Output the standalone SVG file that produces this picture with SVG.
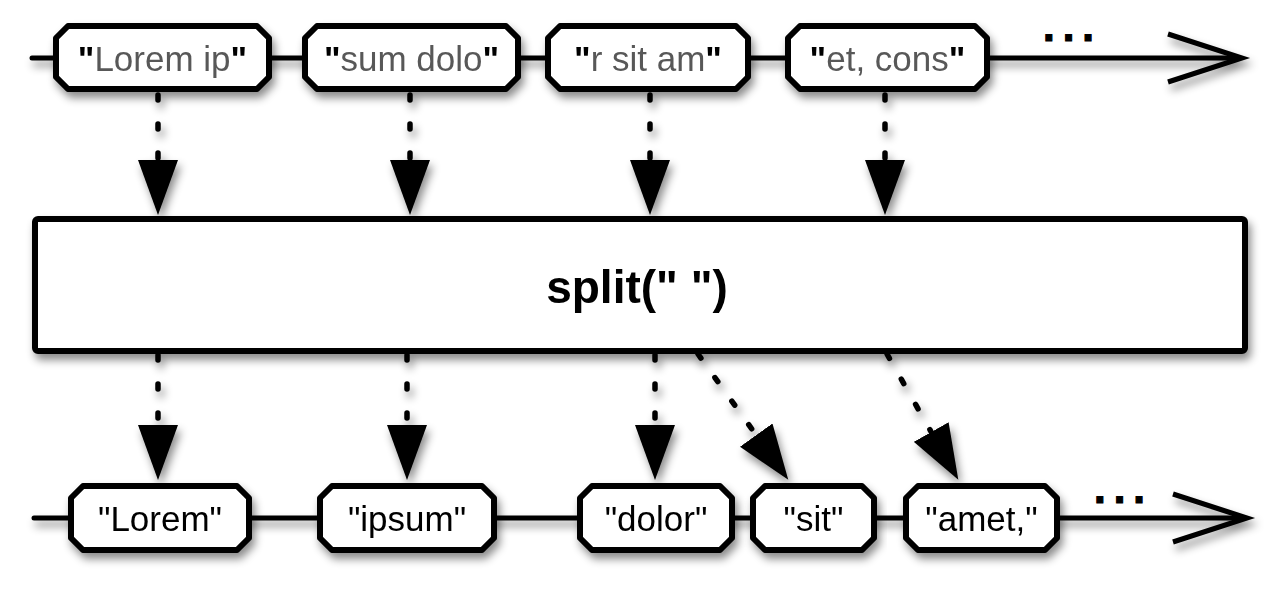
<svg xmlns="http://www.w3.org/2000/svg" width="1280" height="590" viewBox="0 0 1280 590">
<style>
.line{fill:none;stroke:#000;stroke-width:5;stroke-linecap:round}
.chev{fill:none;stroke:#000;stroke-width:5;stroke-linejoin:miter;stroke-linecap:butt}
.node{fill:#fff;stroke:#000;stroke-width:6;stroke-linejoin:round}
.dot{fill:none;stroke:#000;stroke-width:5.5;stroke-linecap:round;stroke-dasharray:5 24}
.t{font-family:"Liberation Sans",Arial,sans-serif;font-size:35px;text-anchor:middle}
.tg{fill:#595959}
.q{fill:#000;font-weight:bold}
.tb{fill:#000}
.ell{font-family:"Liberation Sans",Arial,sans-serif;font-size:42px;font-weight:bold;letter-spacing:8px;stroke:#000;stroke-width:1.2}
.big{font-family:"Liberation Sans",Arial,sans-serif;font-size:46px;font-weight:bold;text-anchor:middle}
</style>
<defs>
<filter id="sh" x="-10%" y="-20%" width="120%" height="160%">
<feDropShadow dx="3" dy="6" stdDeviation="4.5" flood-color="#000" flood-opacity="0.45"/>
</filter>
<marker id="ah" viewBox="0 0 55 40" refX="0" refY="20" markerWidth="55" markerHeight="40" markerUnits="userSpaceOnUse" orient="auto">
<path d="M0,0 L55,20 L0,40 z" fill="#000"/>
</marker>
</defs>
<rect width="1280" height="590" fill="#fff"/>
<g id="timelines" filter="url(#sh)">
<line class="line" x1="32" y1="58" x2="1238" y2="58"/>
<polyline class="chev" points="1168,34 1242,58 1168,82"/>
<line class="line" x1="34" y1="518" x2="1243" y2="518"/>
<polyline class="chev" points="1173,494 1247,518 1173,542"/>
</g>
<text class="ell" x="1043" y="41">...</text>
<text class="ell" x="1094" y="503">...</text>
<g id="connectors" filter="url(#sh)">
<line class="dot" x1="158" y1="95" x2="158" y2="160" marker-end="url(#ah)"/>
<line class="dot" x1="410" y1="95" x2="410" y2="160" marker-end="url(#ah)"/>
<line class="dot" x1="650" y1="95" x2="650" y2="160" marker-end="url(#ah)"/>
<line class="dot" x1="885" y1="95" x2="885" y2="160" marker-end="url(#ah)"/>
<line class="dot" x1="158" y1="355" x2="158" y2="425" marker-end="url(#ah)"/>
<line class="dot" x1="407" y1="355" x2="407" y2="425" marker-end="url(#ah)"/>
<line class="dot" x1="655" y1="355" x2="655" y2="425" marker-end="url(#ah)"/>
<line class="dot" x1="698" y1="354" x2="756.2" y2="435.1" marker-end="url(#ah)"/>
<line class="dot" x1="887" y1="354" x2="931.2" y2="432" marker-end="url(#ah)"/>
</g>
<g id="in1" filter="url(#sh)">
<polygon class="node" points="68,26 257,26 269,38 269,77 257,89 68,89 56,77 56,38"/>
<text class="t tg" x="162.5" y="71"><tspan class="q">"</tspan>Lorem ip<tspan class="q">"</tspan></text>
</g>
<g id="in2" filter="url(#sh)">
<polygon class="node" points="317,26 506,26 518,38 518,77 506,89 317,89 305,77 305,38"/>
<text class="t tg" x="411.5" y="71"><tspan class="q">"</tspan>sum dolo<tspan class="q">"</tspan></text>
</g>
<g id="in3" filter="url(#sh)">
<polygon class="node" points="560,26 736,26 748,38 748,77 736,89 560,89 548,77 548,38"/>
<text class="t tg" x="648" y="71"><tspan class="q">"</tspan>r sit am<tspan class="q">"</tspan></text>
</g>
<g id="in4" filter="url(#sh)">
<polygon class="node" points="800,26 975,26 987,38 987,77 975,89 800,89 788,77 788,38"/>
<text class="t tg" x="887.5" y="71"><tspan class="q">"</tspan>et, cons<tspan class="q">"</tspan></text>
</g>
<g id="split" filter="url(#sh)">
<rect x="35" y="219" width="1210" height="132" rx="3" fill="#fff" stroke="#000" stroke-width="6"/>
<text class="big" x="637" y="303">split(" ")</text>
</g>
<g id="out1" filter="url(#sh)">
<polygon class="node" points="83,486 237,486 249,498 249,538 237,550 83,550 71,538 71,498"/>
<text class="t tb" x="160" y="531">"Lorem"</text>
</g>
<g id="out2" filter="url(#sh)">
<polygon class="node" points="332,486 482,486 494,498 494,538 482,550 332,550 320,538 320,498"/>
<text class="t tb" x="407" y="531">"ipsum"</text>
</g>
<g id="out3" filter="url(#sh)">
<polygon class="node" points="592,486 720,486 732,498 732,538 720,550 592,550 580,538 580,498"/>
<text class="t tb" x="656" y="531">"dolor"</text>
</g>
<g id="out4" filter="url(#sh)">
<polygon class="node" points="765,486 862,486 874,498 874,538 862,550 765,550 753,538 753,498"/>
<text class="t tb" x="813.5" y="531">"sit"</text>
</g>
<g id="out5" filter="url(#sh)">
<polygon class="node" points="918,486 1045,486 1057,498 1057,538 1045,550 918,550 906,538 906,498"/>
<text class="t tb" x="981.5" y="531">"amet,"</text>
</g>
</svg>
